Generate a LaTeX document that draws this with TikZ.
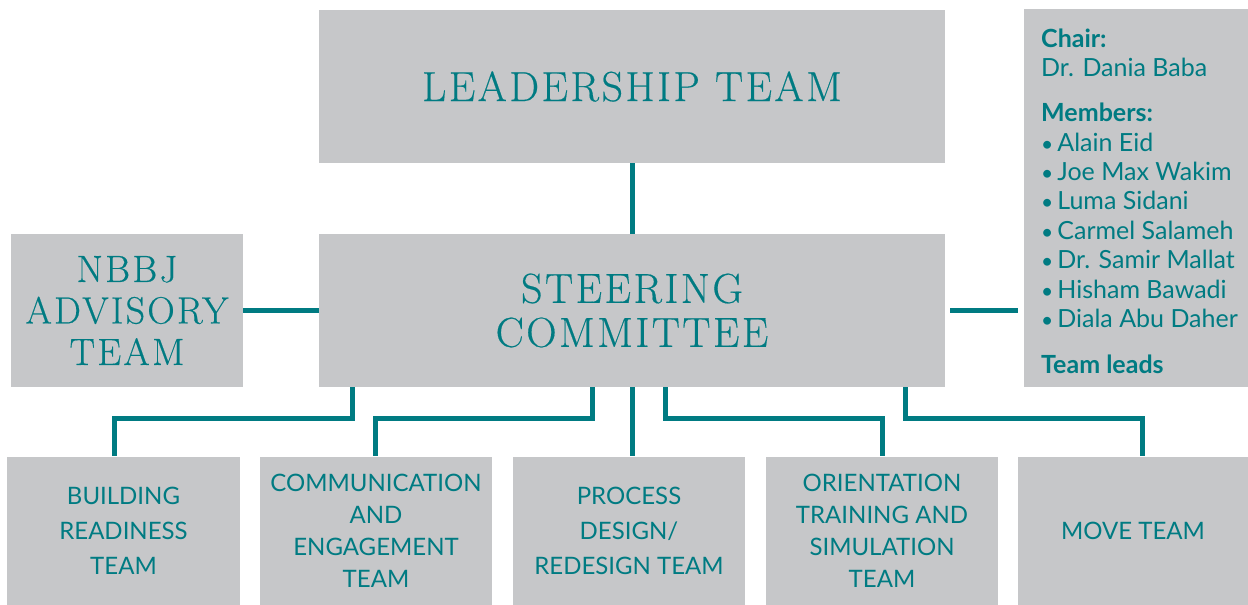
\documentclass[tikz,border=0pt]{standalone}
\usepackage{fontspec}
\setsansfont{Lato}
\newfontfamily\titleserif[LetterSpace=6,FakeBold=0.4]{Latin Modern Roman}
\definecolor{boxgray}{HTML}{C6C7C9}
\definecolor{teal}{HTML}{007B82}
\tikzset{
  box/.style={fill=boxgray, draw=none, inner sep=0pt, align=center, text=teal},
  serifbig/.style={font=\titleserif\fontsize{42}{44}\selectfont},
  serifmid/.style={font=\titleserif\fontsize{38}{41.5}\selectfont},
  sansteam/.style={font=\sffamily\fontsize{24}{35}\selectfont},
  sansteamtight/.style={font=\sffamily\fontsize{24}{32}\selectfont},
  panelline/.style={anchor=base west, inner sep=0pt, text=teal, font=\sffamily\fontsize{25}{28}\selectfont},
  panelhead/.style={panelline, font=\sffamily\bfseries\fontsize{25}{28}\selectfont},
  conn/.style={draw=teal, line width=5pt, line join=miter}
}
\newcommand{\blt}{{\fontsize{21}{28}\selectfont •}\kern4pt}
\begin{document}
\begin{tikzpicture}[x=1pt,y=-1pt]
\useasboundingbox (0,0) rectangle (1248,605);
\node[box, serifbig, minimum width=626pt, minimum height=153pt] (lead) at (632,86.5) {LEADERSHIP TEAM};
\node[box, serifbig, minimum width=626pt, minimum height=153pt] (steer) at (632,310.5) {STEERING\\COMMITTEE};
\node[box, serifmid, minimum width=232pt, minimum height=153pt] (nbbj) at (127,310.5) {NBBJ\\ADVISORY\\TEAM};
\node[box, minimum width=224pt, minimum height=378pt] (panel) at (1136,198) {};
\node[box, sansteam, minimum width=233pt, minimum height=149pt] (build) at (123.5,531) {BUILDING\\READINESS\\TEAM};
\node[box, sansteamtight, minimum width=232pt, minimum height=149pt] (comm) at (376,531) {COMMUNICATION\\AND\\ENGAGEMENT\\TEAM};
\node[box, sansteam, minimum width=232pt, minimum height=149pt] (proc) at (629,531) {PROCESS\\DESIGN/\\REDESIGN TEAM};
\node[box, sansteamtight, minimum width=232pt, minimum height=149pt] (orient) at (882,531) {ORIENTATION\\TRAINING AND\\SIMULATION\\TEAM};
\node[box, sansteam, minimum width=230pt, minimum height=149pt] (move) at (1133,531) {MOVE TEAM};
% panel text
\node[panelhead] (chair) at (1041,47) {Chair:};
\node[panelline] (dania) at (1041,76) {Dr. Dania Baba};
\node[panelhead] (members) at (1041,121) {Members:};
\node[panelline] (m1) at (1041,151) {\blt Alain Eid};
\node[panelline] (m2) at (1041,180) {\blt Joe Max Wakim};
\node[panelline] (m3) at (1041,209) {\blt Luma Sidani};
\node[panelline] (m4) at (1041,239) {\blt Carmel Salameh};
\node[panelline] (m5) at (1041,268) {\blt Dr. Samir Mallat};
\node[panelline] (m6) at (1041,298) {\blt Hisham Bawadi};
\node[panelline] (m7) at (1041,327) {\blt Diala Abu Daher};
\node[panelhead] (leads) at (1041,373) {Team leads};
% connectors
\draw[conn] (lead.south) -- (steer.north);
\draw[conn] (nbbj.east) -- (steer.west);
\draw[conn, shorten <=5pt, shorten >=6pt] (steer.east) -- (steer.east -| panel.west);
\draw[conn] (352,0 |- steer.south) -- (352,418) -| (build.north -| 114,0);
\draw[conn] (592,0 |- steer.south) -- (592,418) -| (comm.north -| 375,0);
\draw[conn] (632,0 |- steer.south) -- (632,0 |- proc.north);
\draw[conn] (665,0 |- steer.south) -- (665,418) -| (orient.north -| 882,0);
\draw[conn] (905,0 |- steer.south) -- (905,418) -| (move.north -| 1142,0);
\end{tikzpicture}
\end{document}
